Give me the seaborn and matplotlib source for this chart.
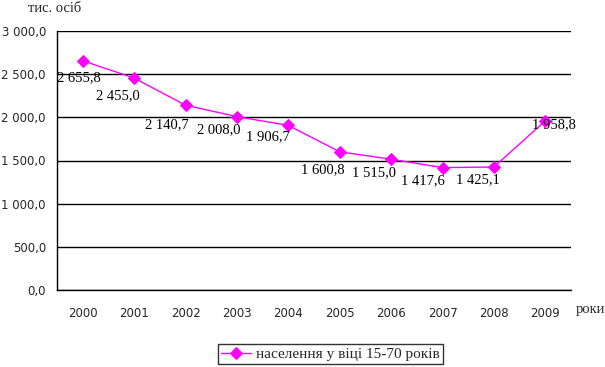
import pandas as pd
import numpy as np
import seaborn as sns
import matplotlib.pyplot as plt
from matplotlib.ticker import FixedLocator, FuncFormatter

# data
years = ['2000', '2001', '2002', '2003', '2004', '2005', '2006', '2007', '2008', '2009']
population = [2655.8, 2455.0, 2140.7, 2008.0, 1906.7, 1600.8, 1515.0, 1417.6, 1425.1, 1958.8]
series_name = 'населення у віці 15-70 років'

# label offsets (pixels) relative to each point
label_dx = [-4, -16, -19, -18, -20, -17, -17, -20, -16, 9]
label_dy = [-17, -18, -20, -13, -11, -18, -13, -13, -13, -4]

def fmt(v):
    s = '{:,.1f}'.format(v)
    return s.replace(',', ' ').replace('.', ',')

df = pd.DataFrame({'рік': years, 'населення': population})

sns.set_style('white')
plt.rcParams['font.family'] = ['Liberation Serif', 'DejaVu Serif']

fig = plt.figure(figsize=(6.05, 3.67), dpi=100)
ax = fig.add_axes([57 / 605, 77 / 367, 514 / 605, 259 / 367])

sns.lineplot(data=df, x='рік', y='населення', ax=ax, color='#ff00ff',
             marker='D', markersize=6, markeredgecolor='#ff00ff',
             linewidth=1, label=series_name)

for i, v in enumerate(population):
    ax.annotate(fmt(v), xy=(i, v), xytext=(label_dx[i], label_dy[i]),
                textcoords='offset pixels', ha='center', va='center',
                fontsize=10.5, color='black')

ax.set_xlim(-0.5, len(years) - 0.5)
ax.set_ylim(0, 3000)
ax.set_yticks(np.arange(0, 3001, 500))
ax.yaxis.set_major_formatter(FuncFormatter(lambda v, p: fmt(v)))
ax.grid(axis='y', color='black', linewidth=1)
ax.set_axisbelow(True)

ax.set_xticks(range(len(years)))
ax.set_xticklabels(years)
ax.xaxis.set_minor_locator(FixedLocator(np.arange(-0.5, len(years), 1)))
ax.tick_params(axis='x', which='major', length=0, pad=12)
ax.tick_params(axis='x', which='minor', length=5, width=1, color='black', direction='out')
ax.tick_params(axis='y', length=5, width=1, color='black', direction='out', pad=3)
for lab in ax.get_xticklabels() + ax.get_yticklabels():
    lab.set_fontfamily('DejaVu Sans')
    lab.set_fontsize(8.5)

for s in ['top', 'right']:
    ax.spines[s].set_visible(False)
for s in ['left', 'bottom']:
    ax.spines[s].set_color('black')
    ax.spines[s].set_linewidth(1)

ax.set_xlabel('')
ax.set_ylabel('')
fig.text(28 / 605, 1 - 9 / 367, 'тис. осіб', fontsize=10.5, va='center', ha='left')
fig.text(576 / 605, 1 - 310 / 367, 'роки', fontsize=10.5, va='center', ha='left')

leg = ax.legend(loc='center', bbox_to_anchor=(330 / 605, 1 - 354 / 367),
                bbox_transform=fig.transFigure, frameon=True, fancybox=False,
                edgecolor='black', fontsize=11, handlelength=2.0,
                borderpad=0.2, handletextpad=0.3, borderaxespad=0)
leg.get_frame().set_linewidth(1)

fig.savefig('out.png', dpi=100)
